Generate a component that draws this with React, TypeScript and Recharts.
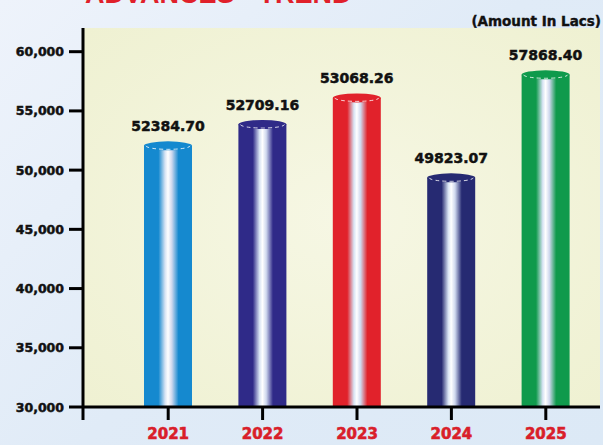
import React from "react";
import { BarChart, Bar, XAxis, YAxis, CartesianGrid, LabelList } from "recharts";

const years = ["2021", "2022", "2023", "2024", "2025"];
const barValues = [52050, 53850, 56100, 49350, 58050];
const amountLabels = ["52384.70", "52709.16", "53068.26", "49823.07", "57868.40"];
const yTicks = [30000, 35000, 40000, 45000, 50000, 55000, 60000];
const barColors = ["#1589cf", "#2f2a88", "#e1222b", "#262a72", "#0f9a4c"];

const data = years.map((year, i) => ({ year, value: barValues[i], label: amountLabels[i] }));

const W = 603;
const H = 445;
const Y_WIDTH = 83;
const TICK_SIZE = 14;
const TICK_MARGIN = 5;

const Cylinder = (props: any) => {
  const { x, y, width, height, index } = props;
  const ry = 4.5;
  const c = barColors[index];
  const cx = x + width / 2;
  const rx = width / 2;
  return (
    <g>
      <rect x={x} y={y} width={width} height={height} fill={`url(#cyl${index})`} />
      <ellipse cx={cx} cy={y} rx={rx} ry={ry} fill={c} />
      <path
        d={`M ${x + 2} ${y} A ${rx - 2} ${ry - 1} 0 0 0 ${x + width - 2} ${y}`}
        fill="none"
        stroke="#ffffff"
        strokeOpacity={0.8}
        strokeWidth={1}
        strokeDasharray="4 3"
      />
    </g>
  );
};

const YTick = (props: any) => {
  const { x, y, payload } = props;
  const axisX = x + TICK_MARGIN + TICK_SIZE;
  return (
    <g>
      <text
        x={x}
        y={y}
        textAnchor="end"
        dominantBaseline="central"
        fontFamily="DejaVu Sans"
        fontWeight="bold"
        fontSize={12.5}
        fill="#111"
        stroke="#111"
        strokeWidth={0.5}
      >
        {payload.value.toLocaleString("en-US")}
      </text>
      {payload.value === 30000 ? (
        <line x1={axisX} x2={axisX} y1={y} y2={y + 13} stroke="#000" strokeWidth={3} />
      ) : null}
    </g>
  );
};

const XTick = (props: any) => {
  const { x, y, payload } = props;
  return (
    <text
      x={x}
      y={y + 17}
      textAnchor="middle"
      fontFamily="DejaVu Sans"
      fontWeight="bold"
      fontSize={15}
      fill="#d91e2a"
      stroke="#d91e2a"
      strokeWidth={0.6}
    >
      {payload.value}
    </text>
  );
};

const BarLabel = (props: any) => {
  const { x, y, width, index } = props;
  return (
    <text
      x={x + width / 2}
      y={y - 15}
      textAnchor="middle"
      fontFamily="DejaVu Sans"
      fontWeight="bold"
      fontSize={14}
      fill="#111"
      stroke="#111"
      strokeWidth={0.5}
    >
      {amountLabels[index]}
    </text>
  );
};

export default function App() {
  return (
    <div
      style={{
        position: "fixed",
        left: 0,
        top: 0,
        width: W,
        height: H,
        background: "linear-gradient(135deg, #eef3fb 0%, #e0ebf7 50%, #dce9f6 100%)",
        overflow: "hidden",
      }}
    >
      <svg width={W} height={H} style={{ position: "absolute", left: 0, top: 0 }}>
        <text
          x={85}
          y={3}
          fontFamily="Liberation Sans"
          fontWeight="bold"
          fontSize={27}
          fill="#e0202a"
        >
          ADVANCES - TREND
        </text>
        <text
          x={601}
          y={26}
          textAnchor="end"
          fontFamily="DejaVu Sans"
          fontWeight="bold"
          fontSize={13.5}
          fill="#111"
          stroke="#111"
          strokeWidth={0.4}
        >
          (Amount In Lacs)
        </text>
      </svg>
      <div style={{ position: "absolute", left: 0, top: 0 }}>
        <BarChart
          width={W}
          height={H}
          data={data}
          margin={{ top: 28, right: 3, bottom: 0, left: 0 }}
          barSize={48}
        >
          <defs>
            <radialGradient id="plotBg" cx="50%" cy="50%" r="70%">
              <stop offset="0%" stopColor="#f6f7e4" />
              <stop offset="100%" stopColor="#eff1d2" />
            </radialGradient>
            {barColors.map((c, i) => (
              <linearGradient key={i} id={`cyl${i}`} x1="0" y1="0" x2="1" y2="0">
                <stop offset="0%" stopColor={c} />
                <stop offset="30%" stopColor={c} />
                <stop offset="44%" stopColor="#d8e4f4" stopOpacity={1} />
                <stop offset="50%" stopColor="#ffffff" />
                <stop offset="58%" stopColor="#cfd8ee" />
                <stop offset="72%" stopColor={c} />
                <stop offset="100%" stopColor={c} />
              </linearGradient>
            ))}
          </defs>
          <CartesianGrid fill="url(#plotBg)" stroke="transparent" horizontal={false} vertical={false} />
          <XAxis
            dataKey="year"
            height={38}
            padding={{ left: 38, right: 7 }}
            axisLine={{ stroke: "#000", strokeWidth: 3 }}
            tickLine={{ stroke: "#000", strokeWidth: 3 }}
            tickSize={13}
            tick={<XTick />}
            interval={0}
          />
          <YAxis
            width={Y_WIDTH}
            domain={[30000, 62000]}
            ticks={yTicks}
            allowDataOverflow
            axisLine={{ stroke: "#000", strokeWidth: 3 }}
            tickLine={{ stroke: "#000", strokeWidth: 3 }}
            tickSize={TICK_SIZE}
            tickMargin={TICK_MARGIN}
            tick={<YTick />}
            interval={0}
          />
          <Bar dataKey="value" shape={<Cylinder />} isAnimationActive={false}>
            <LabelList dataKey="label" content={<BarLabel />} />
          </Bar>
        </BarChart>
      </div>
    </div>
  );
}
